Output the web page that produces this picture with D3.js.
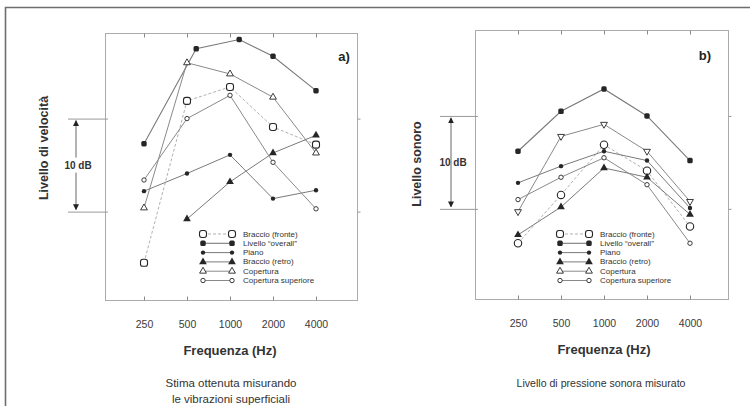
<!DOCTYPE html>
<html>
<head>
<meta charset="utf-8">
<script src="https://cdn.jsdelivr.net/npm/d3@7"></script>
<style>
  body { margin: 0; background: #fff; }
  svg { display: block; }
</style>
</head>
<body>
<svg id="chart" width="750" height="406"></svg>
<script>
// Octave-band centre frequencies and their labels
const frequencies = [250, 500, 1000, 2000, 4000];
const tickLabels = ["250", "500", "1000", "2000", "4000"];

const seriesNames = [
  "Braccio (fronte)",
  "Livello \u201coverall\u201d",
  "Piano",
  "Braccio (retro)",
  "Copertura",
  "Copertura superiore"
];

// a) velocity level estimated from surface vibration (dB, relative)
const velFronte     = [-5.5, 11.9, 13.4, 9.1, 7.2];
const velOverallHz  = [250, 580, 1160, 2000, 4000];
const velOverall    = [7.3, 17.5, 18.5, 16.7, 13.0];
const velPiano      = [2.2, 4.1, 6.1, 1.4, 2.3];
const velRetro      = [null, -0.8, 3.2, 6.3, 8.2];
const velCopertura  = [0.4, 16.0, 14.8, 12.3, 6.3];
const velSuperiore  = [3.4, 10.0, 12.5, 5.3, 0.3];

// b) measured sound pressure level (dB, relative)
const sonFronte     = [-3.7, 1.5, 6.9, 4.1, -1.9];
const sonOverall    = [6.2, 10.5, 12.9, 10.0, 5.2];
const sonPiano      = [2.8, 4.6, 6.2, 5.2, 0.1];
const sonRetro      = [-2.8, 0.2, 4.4, 3.4, -0.6];
const sonCopertura  = [-0.3, 7.8, 9.1, 6.2, 0.8];
const sonSuperiore  = [1.0, 3.4, 5.5, 2.6, -3.7];

const FONT = "'Liberation Sans', Arial, Helvetica, sans-serif";
const svg = d3.select("#chart");

// arrowheads for the 10 dB bracket
const defs = svg.append("defs");
defs.append("marker")
  .attr("id", "arrowHead")
  .attr("viewBox", "0 0 10 10")
  .attr("refX", 9).attr("refY", 5)
  .attr("markerWidth", 6).attr("markerHeight", 6)
  .attr("markerUnits", "userSpaceOnUse")
  .attr("orient", "auto-start-reverse")
  .append("path").attr("d", "M0,0L10,5L0,10Z").attr("fill", "#222");

// page border (top and left rule)
svg.append("path")
  .attr("d", "M5.5,406V7.5H750")
  .attr("fill", "none").attr("stroke", "#6e6e6e").attr("stroke-width", 1.6);

// line / marker style for each series
const seriesStyle = [
  { line: "#a8a8a8", dash: "3,2", width: 0.9, marker: "fronte" },
  { line: "#7a7a7a", dash: null,  width: 1.1, marker: "overall" },
  { line: "#7a7a7a", dash: null,  width: 1.0, marker: "dot" },
  { line: "#7a7a7a", dash: null,  width: 1.0, marker: "triFill" },
  { line: "#8a8a8a", dash: null,  width: 1.0, marker: "triOpen" },
  { line: "#8a8a8a", dash: null,  width: 1.0, marker: "smallCircle" }
];

function drawMarker(g, kind, cx, cy, panelId) {
  const ink = "#262626";
  if (kind === "fronte") {
    if (panelId === "a" || panelId === "legend") {
      g.append("rect").attr("x", cx - 3.5).attr("y", cy - 3.5)
        .attr("width", 7).attr("height", 7).attr("rx", 2.4)
        .attr("fill", "#fff").attr("stroke", ink).attr("stroke-width", 1.1);
    } else {
      g.append("circle").attr("cx", cx).attr("cy", cy).attr("r", 3.7)
        .attr("fill", "#fff").attr("stroke", ink).attr("stroke-width", 1.1);
    }
  } else if (kind === "overall") {
    g.append("rect").attr("x", cx - 2.7).attr("y", cy - 2.7)
      .attr("width", 5.4).attr("height", 5.4).attr("rx", 1.6)
      .attr("fill", ink);
  } else if (kind === "dot") {
    g.append("circle").attr("cx", cx).attr("cy", cy).attr("r", 2.2).attr("fill", ink);
  } else if (kind === "triFill") {
    g.append("path").attr("d", d3.symbol(d3.symbolTriangle, 26)())
      .attr("transform", `translate(${cx},${cy})`).attr("fill", ink);
  } else if (kind === "triOpen") {
    const rot = panelId === "b" ? 180 : 0;
    g.append("path").attr("d", d3.symbol(d3.symbolTriangle, 20)())
      .attr("transform", `translate(${cx},${cy}) rotate(${rot})`)
      .attr("fill", "#fff").attr("stroke", ink).attr("stroke-width", 0.9);
  } else if (kind === "smallCircle") {
    g.append("circle").attr("cx", cx).attr("cy", cy).attr("r", 2.2)
      .attr("fill", "#fff").attr("stroke", ink).attr("stroke-width", 0.9);
  }
}

const panels = [
  {
    id: "a",
    frame: { x0: 105, y0: 33, x1: 357, y1: 300 },
    xRange: [144, 316],
    yDomain: [-9.5, 19.2],
    yLabel: "Livello di velocit\u00e0",
    yLabelPos: [44, 148],
    bracketX0: 68, arrowX: 76, gapBehindText: true,
    tag: "a)", tagPos: [344, 56],
    legend: { x: 203, y: 234 },
    caption: ["Stima ottenuta misurando", "le vibrazioni superficiali"],
    captionX: 231, captionSize: 11.5,
    series: [
      { freq: frequencies,  values: velFronte },
      { freq: velOverallHz, values: velOverall },
      { freq: frequencies,  values: velPiano },
      { freq: frequencies,  values: velRetro },
      { freq: frequencies,  values: velCopertura },
      { freq: frequencies,  values: velSuperiore }
    ]
  },
  {
    id: "b",
    frame: { x0: 475, y0: 30, x1: 728, y1: 299 },
    xRange: [518, 690],
    yDomain: [-9.7, 19.25],
    yLabel: "Livello sonoro",
    yLabelPos: [417, 164],
    bracketX0: 440, arrowX: 451, gapBehindText: false,
    tag: "b)", tagPos: [705, 55],
    legend: { x: 560, y: 234 },
    caption: ["Livello di pressione sonora misurato"],
    captionX: 601, captionSize: 10.6,
    series: [
      { freq: frequencies, values: sonFronte },
      { freq: frequencies, values: sonOverall },
      { freq: frequencies, values: sonPiano },
      { freq: frequencies, values: sonRetro },
      { freq: frequencies, values: sonCopertura },
      { freq: frequencies, values: sonSuperiore }
    ]
  }
];

panels.forEach(p => {
  const f = p.frame;
  const g = svg.append("g").attr("class", "panel-" + p.id);

  const x = d3.scaleLog().base(2).domain([250, 4000]).range(p.xRange);
  const y = d3.scaleLinear().domain(p.yDomain).range([f.y1, f.y0]);

  // plot frame
  g.append("rect")
    .attr("x", f.x0 + 0.5).attr("y", f.y0 + 0.5)
    .attr("width", f.x1 - f.x0).attr("height", f.y1 - f.y0)
    .attr("fill", "none").attr("stroke", "#ababab").attr("stroke-width", 1);

  // bottom axis: inward ticks with frequency labels
  const xb = g.append("g").attr("transform", `translate(0,${f.y1 + 0.5})`)
    .call(d3.axisBottom(x).tickValues(frequencies)
      .tickFormat((d, i) => tickLabels[i])
      .tickSizeInner(-4).tickSizeOuter(0).tickPadding(20));
  xb.select(".domain").remove();
  xb.selectAll("line").attr("stroke", "#8a8a8a");
  xb.selectAll("text").attr("font-family", FONT).attr("font-size", 10.5).attr("fill", "#3a3a3a");

  // top axis: inward ticks only
  const xt = g.append("g").attr("transform", `translate(0,${f.y0 + 0.5})`)
    .call(d3.axisTop(x).tickValues(frequencies).tickFormat("")
      .tickSizeInner(-4).tickSizeOuter(0));
  xt.select(".domain").remove();
  xt.selectAll("line").attr("stroke", "#8a8a8a");

  // left reference lines at 0 and 10 dB, extended out to the bracket
  const yl = g.append("g").attr("transform", `translate(${f.x0 + 3},0)`)
    .call(d3.axisLeft(y).tickValues([0, 10]).tickFormat("")
      .tickSizeInner(f.x0 + 3 - p.bracketX0).tickSizeOuter(0));
  yl.select(".domain").remove();
  yl.selectAll("line").attr("stroke", "#9a9a9a");

  // right-side inward ticks
  const yr = g.append("g").attr("transform", `translate(${f.x1 + 0.5},0)`)
    .call(d3.axisRight(y).tickValues([0, 10]).tickFormat("")
      .tickSizeInner(3).tickSizeOuter(0));
  yr.select(".domain").remove();
  yr.selectAll("line").attr("stroke", "#9a9a9a");

  // 10 dB bracket arrow
  g.append("line")
    .attr("x1", p.arrowX).attr("x2", p.arrowX)
    .attr("y1", y(10) + 2).attr("y2", y(0) - 2)
    .attr("stroke", "#555").attr("stroke-width", 0.9)
    .attr("marker-start", "url(#arrowHead)")
    .attr("marker-end", "url(#arrowHead)");
  const midY = (y(10) + y(0)) / 2;
  const dbText = g.append("text")
    .attr("x", p.arrowX + 2).attr("y", midY)
    .attr("text-anchor", "middle").attr("dominant-baseline", "central")
    .attr("font-family", FONT).attr("font-size", 10).attr("font-weight", "bold")
    .attr("fill", "#333").text("10 dB");
  if (p.gapBehindText) {
    const bb = dbText.node().getBBox();
    g.insert("rect", () => dbText.node())
      .attr("x", bb.x - 1).attr("y", bb.y - 2)
      .attr("width", bb.width + 2).attr("height", bb.height + 4)
      .attr("fill", "#fff");
  }

  // y-axis title
  g.append("text")
    .attr("transform", `translate(${p.yLabelPos[0]},${p.yLabelPos[1]}) rotate(-90)`)
    .attr("text-anchor", "middle").attr("dominant-baseline", "central")
    .attr("font-family", FONT).attr("font-size", 12.5).attr("font-weight", "bold")
    .attr("fill", "#333").text(p.yLabel);

  // x-axis title
  g.append("text")
    .attr("x", (p.xRange[0] + p.xRange[1]) / 2).attr("y", f.y1 + 50)
    .attr("text-anchor", "middle").attr("dominant-baseline", "central")
    .attr("font-family", FONT).attr("font-size", 13).attr("font-weight", "bold")
    .attr("fill", "#333").text("Frequenza (Hz)");

  // panel tag
  g.append("text")
    .attr("x", p.tagPos[0]).attr("y", p.tagPos[1])
    .attr("text-anchor", "middle").attr("dominant-baseline", "central")
    .attr("font-family", FONT).attr("font-size", 13).attr("font-weight", "bold")
    .attr("fill", "#222").text(p.tag);

  // series lines
  const line = d3.line()
    .defined(d => d.v != null)
    .x(d => x(d.f)).y(d => y(d.v));
  const seriesPts = p.series.map(s => s.freq.map((fq, i) => ({ f: fq, v: s.values[i] })));

  seriesPts.forEach((pts, k) => {
    const st = seriesStyle[k];
    g.append("path").datum(pts)
      .attr("d", line)
      .attr("fill", "none").attr("stroke", st.line)
      .attr("stroke-width", st.width)
      .attr("stroke-dasharray", st.dash);
  });
  // series markers
  seriesPts.forEach((pts, k) => {
    const mg = g.append("g");
    pts.filter(d => d.v != null).forEach(d =>
      drawMarker(mg, seriesStyle[k].marker, x(d.f), y(d.v), p.id));
  });

  // legend
  const lg = g.append("g");
  seriesNames.forEach((name, k) => {
    const st = seriesStyle[k];
    const ly = p.legend.y + k * 9.3;
    lg.append("line")
      .attr("x1", p.legend.x).attr("x2", p.legend.x + 29)
      .attr("y1", ly).attr("y2", ly)
      .attr("stroke", st.line).attr("stroke-width", st.width)
      .attr("stroke-dasharray", st.dash);
    drawMarker(lg, st.marker, p.legend.x, ly, "legend");
    drawMarker(lg, st.marker, p.legend.x + 29, ly, "legend");
    lg.append("text")
      .attr("x", p.legend.x + 40).attr("y", ly)
      .attr("dominant-baseline", "central")
      .attr("font-family", FONT).attr("font-size", 8)
      .attr("fill", "#333").text(name);
  });

  // caption below the panel
  p.caption.forEach((c, i) => {
    g.append("text")
      .attr("x", p.captionX).attr("y", 383 + i * 16)
      .attr("text-anchor", "middle").attr("dominant-baseline", "central")
      .attr("font-family", FONT).attr("font-size", p.captionSize)
      .attr("fill", "#333").text(c);
  });
});
</script>
</body>
</html>
